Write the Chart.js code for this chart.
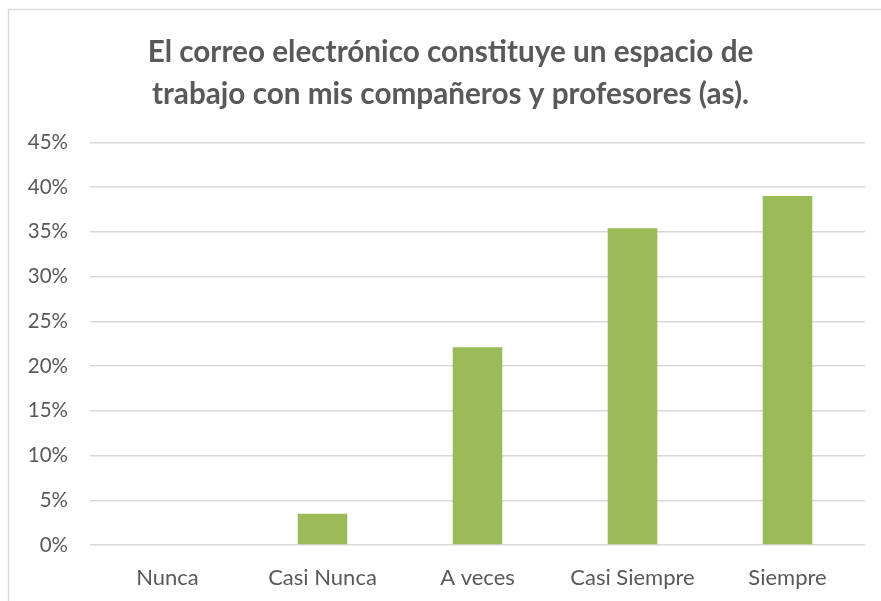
<!DOCTYPE html>
<html>
<head>
<meta charset="utf-8">
<script src="https://cdn.jsdelivr.net/npm/chart.js@4"></script>
<style>
  body { margin: 0; background: #fff; }
  canvas { display: block; }
</style>
</head>
<body>
<canvas id="myChart" width="881" height="601"></canvas>
<script>
  const categories = ['Nunca', 'Casi Nunca', 'A veces', 'Casi Siempre', 'Siempre'];
  const values = [0, 3.5, 22.1, 35.4, 39.0];
  const titleLines = ['El correo electrónico constituye un espacio de', 'trabajo con mis compañeros y profesores (as).'];

  // light frame around the chart (top and left edges visible),
  // and title centred on the whole frame rather than the padded box
  const frame = {
    id: 'frame',
    afterLayout(chart) {
      if (chart.titleBlock) chart.titleBlock.left = 36;
    },
    beforeDraw(chart) {
      const c = chart.ctx;
      c.save();
      c.fillStyle = '#ffffff';
      c.fillRect(0, 0, chart.width, chart.height);
      c.strokeStyle = '#d9d9d9';
      c.lineWidth = 1.5;
      c.beginPath();
      c.moveTo(881, 9.5);
      c.lineTo(8.5, 9.5);
      c.lineTo(8.5, 601);
      c.stroke();
      c.restore();
    }
  };

  const ctx = document.getElementById('myChart');

  new Chart(ctx, {
    type: 'bar',
    data: {
      labels: categories,
      datasets: [{
        data: values,
        backgroundColor: '#9bbb59',
        barPercentage: 0.32,
        categoryPercentage: 1
      }]
    },
    options: {
      responsive: false,
      devicePixelRatio: 1,
      animation: false,
      layout: { padding: { left: 10, right: 16, top: 8, bottom: 8 } },
      plugins: {
        legend: { display: false },
        tooltip: { enabled: false },
        title: {
          display: true,
          text: titleLines,
          color: '#595959',
          font: { family: 'Lato, "Open Sans", sans-serif', size: 29.7, weight: 'bold', lineHeight: 1.42 },
          padding: { top: 23, bottom: 27 }
        }
      },
      scales: {
        y: {
          min: 0,
          max: 45,
          border: { display: false },
          grid: { color: '#d9d9d9', lineWidth: 1.5, drawTicks: false },
          ticks: {
            stepSize: 5,
            padding: 22,
            color: '#595959',
            font: { family: 'Lato, "Open Sans", sans-serif', size: 20.5 },
            callback: v => v + '%'
          },
          afterFit(scale) { scale.width = 80; }
        },
        x: {
          border: { display: false },
          grid: { display: false },
          ticks: {
            padding: 12,
            color: '#595959',
            font: { family: 'Lato, "Open Sans", sans-serif', size: 22 }
          },
          afterFit(scale) { scale.height = 48; }
        }
      }
    },
    plugins: [frame]
  });
</script>
</body>
</html>
